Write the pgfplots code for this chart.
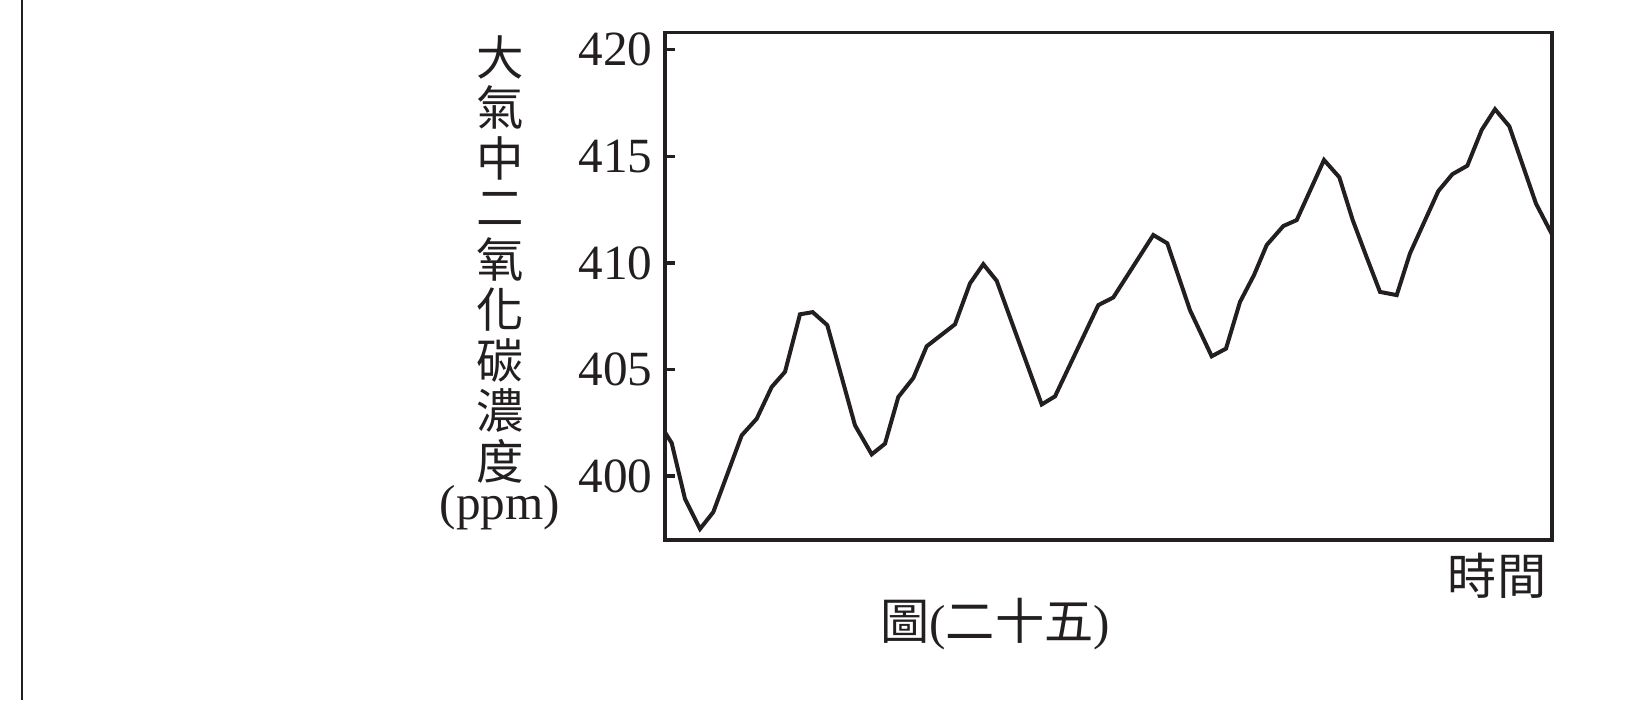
\documentclass[border=0pt]{standalone}
\usepackage{pgfplots}
\pgfplotsset{compat=1.18}
\usepackage{fontspec}
\setmainfont{Liberation Serif}
\newfontfamily\cjk{Noto Sans CJK TC}

\definecolor{ink}{RGB}{35,31,32}

\begin{document}
\begin{tikzpicture}
\useasboundingbox (0,0) rectangle (16.5cm,-7cm);
% page edge on the left
\draw[ink, line width=0.85pt] (0.22cm,0) -- (0.22cm,-7cm);

\begin{axis}[
    scale only axis,
    width=8.87cm, height=5.073cm,
    at={(6.65cm,-5.40cm)}, anchor=south west,
    xmin=0, xmax=887,
    ymin=397, ymax=420.8,
    axis line style={ink, line width=0.95pt},
    xtick=\empty,
    ytick={400,405,...,420},
    ytick pos=left,
    tick align=inside,
    major tick length=2.8pt,
    every tick/.style={ink, line width=0.95pt},
    yticklabel style={font=\fontsize{14}{14}\selectfont, text=ink},
    /pgf/number format/assume math mode=true,
]
\addplot[ink, line width=1.14pt, line join=miter] coordinates {
    (0,402.05) (6.7,401.55) (20,398.93) (35,397.52) (48.3,398.31)
    (76.7,401.91) (91.7,402.69) (106.7,404.18) (120,404.89) (135,407.59)
    (147.7,407.69) (162.3,407.08) (190,402.38) (206.7,401.02) (220,401.52)
    (233.3,403.71) (248.3,404.60) (261.7,406.09) (290,407.12) (305,409.04)
    (318.3,409.94) (331.7,409.16) (376.7,403.36) (390,403.74) (433.3,408.02)
    (448.3,408.38) (488.3,411.31) (502.3,410.92) (525,407.78) (546.7,405.62)
    (561,405.98) (575,408.17) (589,409.43) (601.7,410.84) (618.3,411.73)
    (631.7,412.01) (659,414.83) (674.3,414.02) (687.7,412.01) (701.7,410.26)
    (715,408.64) (731.7,408.49) (745,410.45) (773.3,413.37) (787.3,414.16)
    (802.3,414.56) (816.7,416.24) (830,417.21) (844.3,416.41) (871,412.78)
    (887,411.34)
};
\end{axis}

% y label, one character per line
\foreach \c [count=\i from 0] in {大,氣,中,二,氧,化,碳,濃,度}
    \node[text=ink, font=\cjk\fontsize{13.5}{13.5}\selectfont, inner sep=0pt] at (5.0cm, {-0.57cm-0.505cm*\i}) {\c};
\node[text=ink, font=\fontsize{14}{14}\selectfont, inner sep=0pt] at (5.0cm,-5.08cm) {(ppm)};

\node[text=ink, font=\cjk\fontsize{14}{14}\selectfont, anchor=east, inner sep=0pt] at (15.47cm,-5.76cm) {時間};
\node[text=ink, font=\fontsize{14}{14}\selectfont] at (9.95cm,-6.24cm) {{\cjk 圖}({\cjk 二十五})};
\end{tikzpicture}
\end{document}
